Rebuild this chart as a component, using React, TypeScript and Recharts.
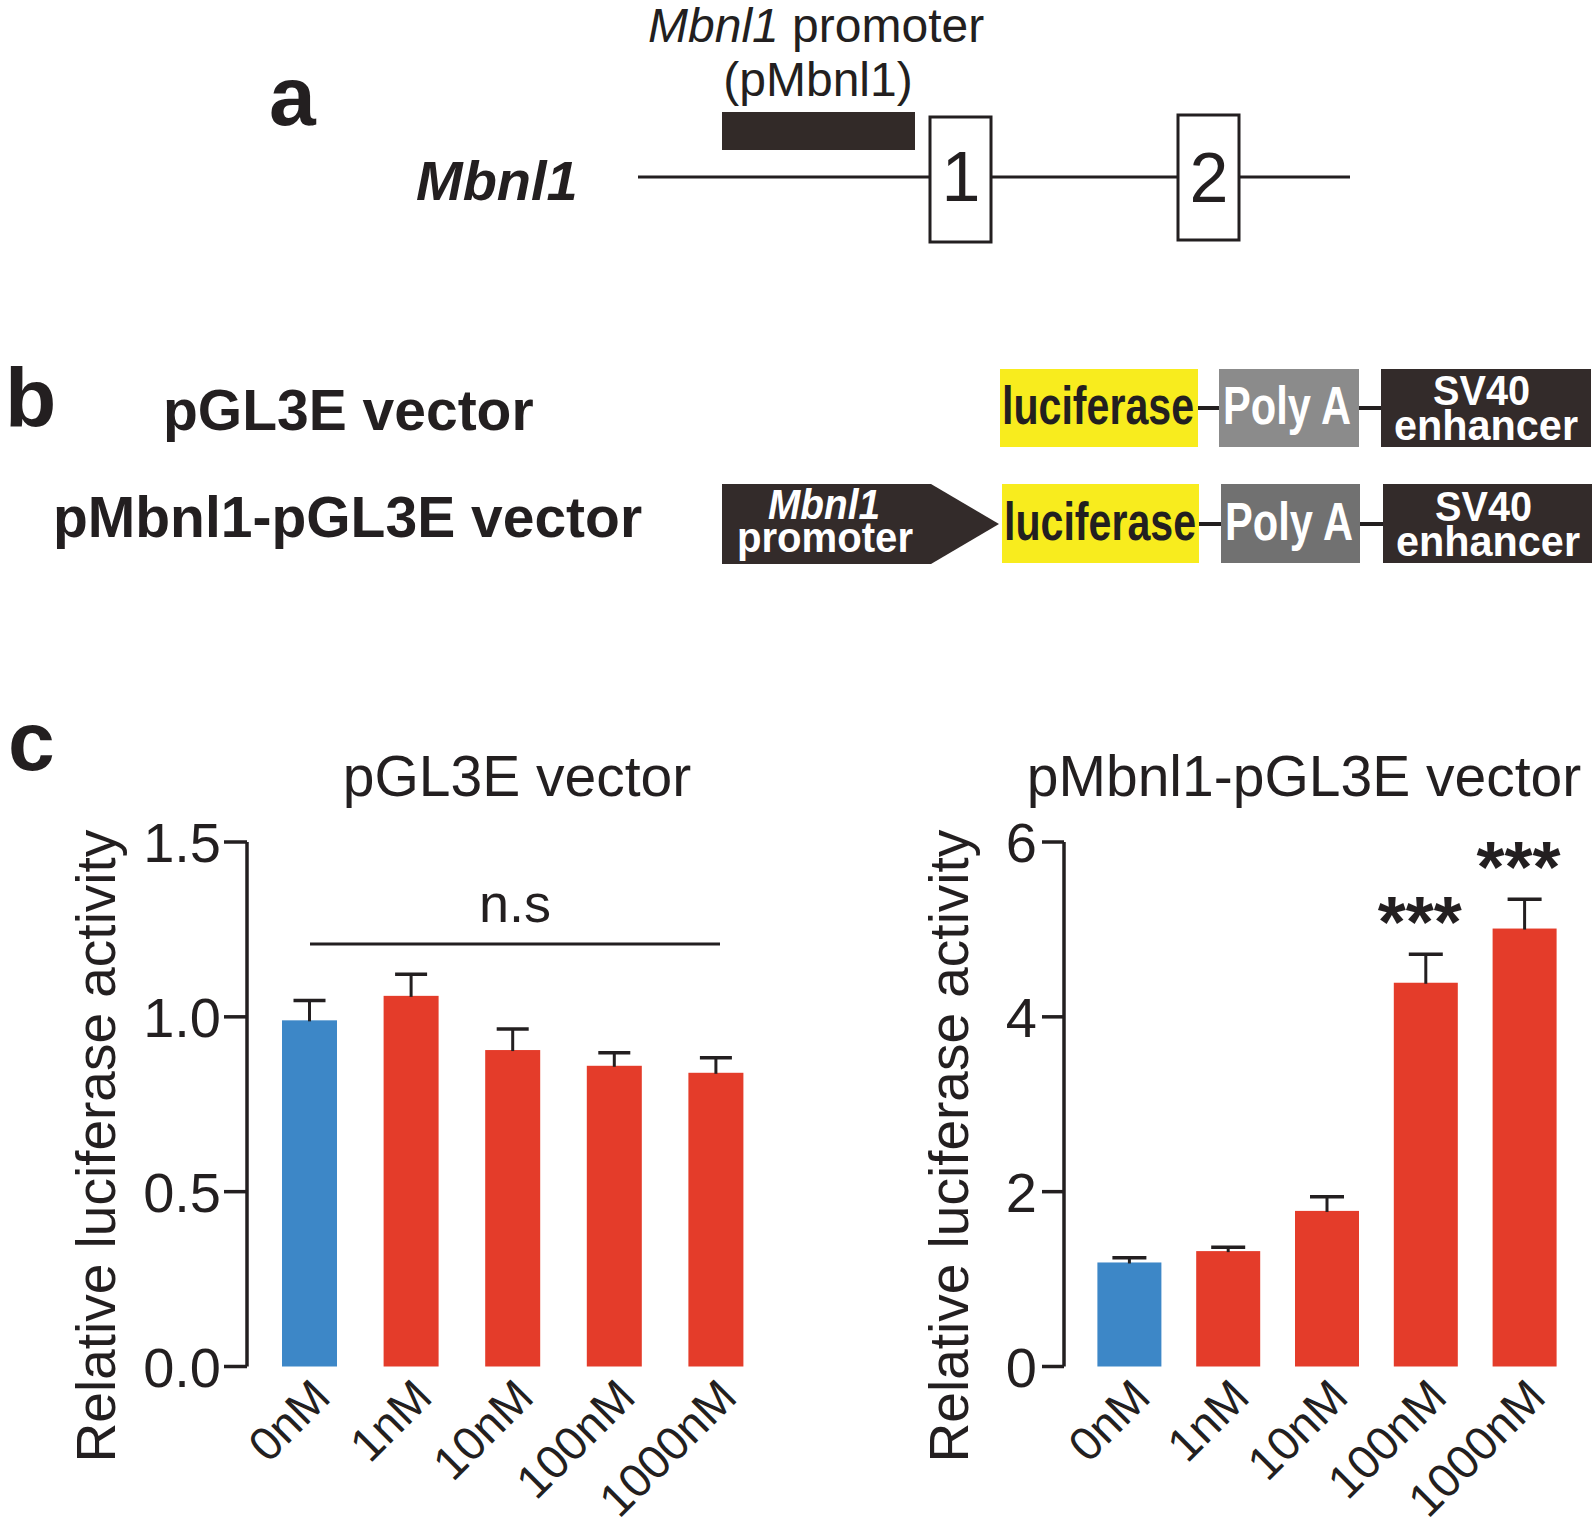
import React from 'react'
import { BarChart, Bar, XAxis, YAxis } from 'recharts'

const FONT = '"Liberation Sans", Arial, Helvetica, sans-serif'
const INK = '#231f20'

// shared categories
const concentrations = ['0nM', '1nM', '10nM', '100nM', '1000nM']
const barColors = ['#3d87c7', '#e43c2a', '#e43c2a', '#e43c2a', '#e43c2a']

// pGL3E vector
const pgl3eMeans = [0.99, 1.06, 0.905, 0.86, 0.84]
const pgl3eErrors = [0.057, 0.062, 0.06, 0.037, 0.043]
const pgl3eTicks = [0, 0.5, 1.0, 1.5]

// pMbnl1-pGL3E vector
const pmbnlMeans = [1.19, 1.32, 1.78, 4.39, 5.01]
const pmbnlErrors = [0.053, 0.045, 0.163, 0.325, 0.335]
const pmbnlSig = ['', '', '', '***', '***']
const pmbnlTicks = [0, 2, 4, 6]

const pgl3eData = concentrations.map((name, i) => ({
  name,
  mean: pgl3eMeans[i],
  err: pgl3eErrors[i],
  color: barColors[i],
  sig: '',
}))

const pmbnlData = concentrations.map((name, i) => ({
  name,
  mean: pmbnlMeans[i],
  err: pmbnlErrors[i],
  color: barColors[i],
  sig: pmbnlSig[i],
}))

// bar + upper error whisker (+ significance stars)
const makeShape = (capW: number) => (props: any) => {
  const { x, y, width, height, payload } = props
  const k = payload.mean ? height / payload.mean : 0
  const cx = x + width / 2
  const top = y - payload.err * k
  return (
    <g>
      <rect x={x} y={y} width={width} height={height} fill={payload.color} />
      <line x1={cx} x2={cx} y1={y + 1} y2={top} stroke={INK} strokeWidth={3} />
      <line x1={cx - capW / 2} x2={cx + capW / 2} y1={top} y2={top} stroke={INK} strokeWidth={3.5} />
      {payload.sig ? (
        <text x={cx - 6} y={top - 7} textAnchor="middle" fontSize={72} fontWeight="bold" fill={INK} fontFamily={FONT}>
          {payload.sig}
        </text>
      ) : null}
    </g>
  )
}

const yTick = (fmt: (v: number) => string) => (props: any) => {
  const { x, y, payload } = props
  return (
    <text x={x} y={y} dy="0.36em" textAnchor="end" fontSize={56} fill={INK} fontFamily={FONT}>
      {fmt(payload.value)}
    </text>
  )
}

const xTick = (props: any) => {
  const { x, y, payload } = props
  const ax = x + 23
  const ay = y + 33
  return (
    <text
      x={ax}
      y={ay}
      transform={`rotate(-45 ${ax} ${ay})`}
      textAnchor="end"
      fontSize={47}
      fill={INK}
      fontFamily={FONT}
    >
      {payload.value}
    </text>
  )
}

function Diagram() {
  const t = { fontFamily: FONT, fill: INK }
  return (
    <svg
      width={1594}
      height={1522}
      style={{ position: 'absolute', left: 0, top: 0, pointerEvents: 'none' }}
    >
      {/* panel a */}
      <text x={269} y={125} fontSize={84} fontWeight="bold" {...t}>a</text>
      <text x={648} y={42} fontSize={48} {...t}>
        <tspan fontStyle="italic">Mbnl1</tspan> promoter
      </text>
      <text x={818} y={96} fontSize={48} textAnchor="middle" {...t}>(pMbnl1)</text>
      <rect x={722} y={112} width={193} height={38} fill="#322a28" />
      <text x={416} y={200} fontSize={56} fontWeight="bold" fontStyle="italic" {...t}>Mbnl1</text>
      <line x1={638} x2={1350} y1={177} y2={177} stroke={INK} strokeWidth={3} />
      <rect x={930} y={117} width={61} height={125} fill="#fff" stroke={INK} strokeWidth={3} />
      <rect x={1178} y={115} width={61} height={125} fill="#fff" stroke={INK} strokeWidth={3} />
      <text x={961} y={201} fontSize={70} textAnchor="middle" {...t}>1</text>
      <text x={1209} y={202} fontSize={70} textAnchor="middle" {...t}>2</text>

      {/* panel b */}
      <text x={5} y={427} fontSize={84} fontWeight="bold" {...t}>b</text>
      <text x={163} y={430} fontSize={57} fontWeight="bold" {...t}>pGL3E vector</text>
      <text x={53} y={537} fontSize={57} fontWeight="bold" {...t}>pMbnl1-pGL3E vector</text>

      {/* row 1 */}
      <line x1={1198} x2={1219} y1={408} y2={408} stroke={INK} strokeWidth={4} />
      <line x1={1359} x2={1381} y1={408} y2={408} stroke={INK} strokeWidth={4} />
      <rect x={1000} y={369} width={198} height={78} fill="#f8ec1e" />
      <rect x={1219} y={369} width={140} height={78} fill="#8b8b8b" />
      <rect x={1381} y={369} width={210} height={78} fill="#332b2a" />
      <text x={1002} y={424} fontSize={54} fontWeight="bold" textLength={192} lengthAdjust="spacingAndGlyphs" {...t}>luciferase</text>
      <text x={1223} y={424} fontSize={54} fontWeight="bold" textLength={128} lengthAdjust="spacingAndGlyphs" fontFamily={FONT} fill="#fff">Poly A</text>
      <text x={1433} y={405} fontSize={43} fontWeight="bold" textLength={97} lengthAdjust="spacingAndGlyphs" fontFamily={FONT} fill="#fff">SV40</text>
      <text x={1394} y={440} fontSize={43} fontWeight="bold" textLength={184} lengthAdjust="spacingAndGlyphs" fontFamily={FONT} fill="#fff">enhancer</text>

      {/* row 2 */}
      <polygon points="722,484 931,484 999,524 931,564 722,564" fill="#332b2a" />
      <text x={768} y={519} fontSize={43} fontWeight="bold" fontStyle="italic" textLength={112} lengthAdjust="spacingAndGlyphs" fontFamily={FONT} fill="#fff">Mbnl1</text>
      <text x={737} y={552} fontSize={43} fontWeight="bold" textLength={176} lengthAdjust="spacingAndGlyphs" fontFamily={FONT} fill="#fff">promoter</text>
      <line x1={1199} x2={1221} y1={524} y2={524} stroke={INK} strokeWidth={4} />
      <line x1={1360} x2={1383} y1={524} y2={524} stroke={INK} strokeWidth={4} />
      <rect x={1002} y={484} width={197} height={79} fill="#f8ec1e" />
      <rect x={1221} y={484} width={139} height={79} fill="#717171" />
      <rect x={1383} y={484} width={209} height={79} fill="#332b2a" />
      <text x={1004} y={540} fontSize={54} fontWeight="bold" textLength={192} lengthAdjust="spacingAndGlyphs" {...t}>luciferase</text>
      <text x={1225} y={540} fontSize={54} fontWeight="bold" textLength={128} lengthAdjust="spacingAndGlyphs" fontFamily={FONT} fill="#fff">Poly A</text>
      <text x={1435} y={521} fontSize={43} fontWeight="bold" textLength={97} lengthAdjust="spacingAndGlyphs" fontFamily={FONT} fill="#fff">SV40</text>
      <text x={1396} y={556} fontSize={43} fontWeight="bold" textLength={184} lengthAdjust="spacingAndGlyphs" fontFamily={FONT} fill="#fff">enhancer</text>

      {/* panel c */}
      <text x={8} y={770} fontSize={84} fontWeight="bold" {...t}>c</text>
      <text x={517} y={796} fontSize={57} textAnchor="middle" {...t}>pGL3E vector</text>
      <text x={1304} y={796} fontSize={57} textAnchor="middle" {...t}>pMbnl1-pGL3E vector</text>
      <text x={0} y={0} fontSize={55} textAnchor="middle" transform="translate(115 1146) rotate(-90)" {...t}>
        Relative luciferase activity
      </text>
      <text x={0} y={0} fontSize={55} textAnchor="middle" transform="translate(968 1146) rotate(-90)" {...t}>
        Relative luciferase activity
      </text>
      <text x={515} y={922} fontSize={54} textAnchor="middle" {...t}>n.s</text>
      <line x1={310} x2={720} y1={944} y2={944} stroke={INK} strokeWidth={3} />
    </svg>
  )
}

export default function App() {
  return (
    <div
      style={{
        position: 'absolute',
        left: 0,
        top: 0,
        width: 1594,
        height: 1522,
        background: '#fff',
        fontFamily: FONT,
      }}
    >
      <div style={{ position: 'absolute', left: 0, top: 780 }}>
        <BarChart width={800} height={742} data={pgl3eData} margin={{ top: 62, right: 33, bottom: 5.5, left: 0 }}>
          <XAxis
            dataKey="name"
            interval={0}
            axisLine={false}
            tickLine={false}
            tickSize={0}
            tickMargin={0}
            height={150}
            padding={{ left: 12, right: 0 }}
            tick={xTick}
          />
          <YAxis
            width={247}
            domain={[0, 1.5]}
            ticks={pgl3eTicks}
            interval={0}
            tickSize={23}
            tickMargin={3}
            axisLine={{ stroke: INK, strokeWidth: 3.5 }}
            tickLine={{ stroke: INK, strokeWidth: 3.5 }}
            tick={yTick((v) => v.toFixed(1))}
          />
          <Bar dataKey="mean" barSize={55} isAnimationActive={false} shape={makeShape(32)} />
        </BarChart>
      </div>
      <div style={{ position: 'absolute', left: 850, top: 780 }}>
        <BarChart width={744} height={742} data={pmbnlData} margin={{ top: 62, right: 19.6, bottom: 5.5, left: 0 }}>
          <XAxis
            dataKey="name"
            interval={0}
            axisLine={false}
            tickLine={false}
            tickSize={0}
            tickMargin={0}
            height={150}
            padding={{ left: 16.4, right: 0 }}
            tick={xTick}
          />
          <YAxis
            width={214}
            domain={[0, 6]}
            ticks={pmbnlTicks}
            interval={0}
            tickSize={22}
            tickMargin={5}
            axisLine={{ stroke: INK, strokeWidth: 3.5 }}
            tickLine={{ stroke: INK, strokeWidth: 3.5 }}
            tick={yTick((v) => String(v))}
          />
          <Bar dataKey="mean" barSize={64} isAnimationActive={false} shape={makeShape(34)} />
        </BarChart>
      </div>
      <Diagram />
    </div>
  )
}
